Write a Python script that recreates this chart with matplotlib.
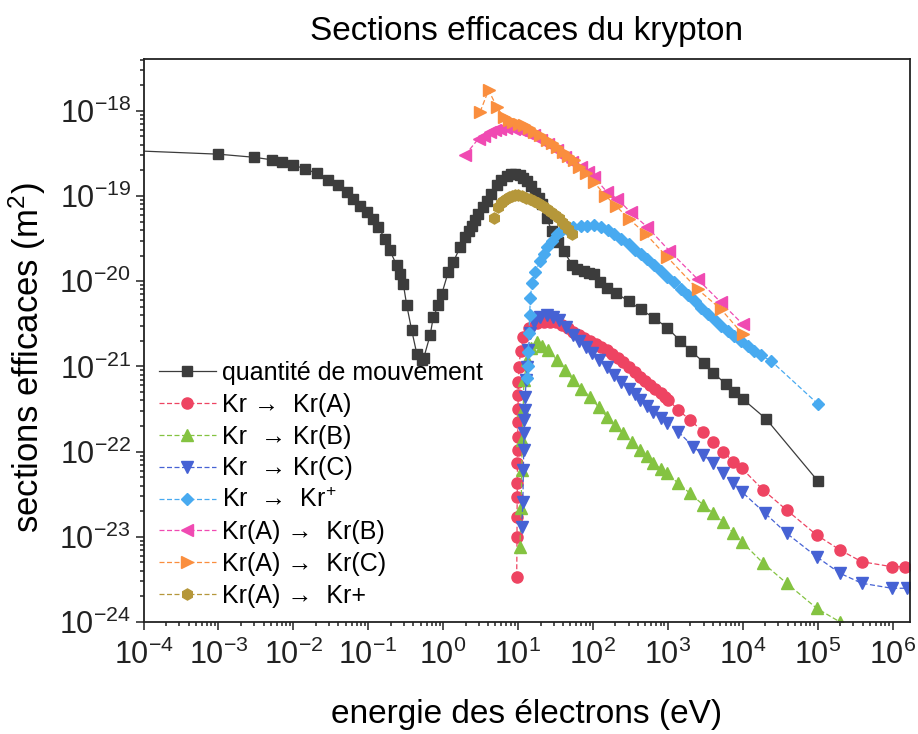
# sections efficaces du krypton - recreation du graphe (log-log)
import matplotlib
matplotlib.use("Agg")
import matplotlib.pyplot as plt
from matplotlib.ticker import (FixedLocator, LogLocator, LogFormatterMathtext,
                               NullFormatter)

plt.rcParams["font.family"] = ["Liberation Sans", "DejaVu Sans"]
plt.rcParams["mathtext.fontset"] = "custom"
plt.rcParams["mathtext.rm"] = "Liberation Sans"
plt.rcParams["mathtext.it"] = "Liberation Sans:italic"
plt.rcParams["mathtext.bf"] = "Liberation Sans:bold"

A2 = 1e-20  # les sections sont notees en 1e-20 m^2

# decades des axes
x_decades = list(range(-4, 7))
y_decades = list(range(-24, -17))

# quantite de mouvement (carres noirs)
E_mt = [5e-5, 1.0e-3, 3.0e-3, 5.2e-3, 7.0e-3, 1.0e-2, 1.43e-2, 2.05e-2, 2.9e-2,
        4.0e-2, 5.2e-2, 6.3e-2, 7.8e-2, 9.6e-2, 0.117, 0.136, 0.168, 0.195,
        0.24, 0.266, 0.294, 0.327, 0.381, 0.445, 0.518, 0.55, 0.67, 0.74, 0.86,
        0.96, 1.17, 1.37, 1.68, 1.96, 2.2, 2.41, 2.7, 2.95, 3.4, 3.82, 4.3, 5.2,
        6.0, 7.1, 8.0, 9.1, 10.5, 11.8, 13.1, 15.0, 17.0, 19.0, 20.9, 24.0,
        28.4, 34.0, 40.7, 52.6, 62.0, 75.5, 88.0, 103, 125, 154, 201, 303, 435,
        655, 988, 1460, 2030, 3040, 4050, 5990, 7730, 10000, 20500, 1.0e5]
sig_mt = [34.5, 31, 28.5, 26.6, 25.4, 23.2, 20.8, 18.5, 15.5,
          13.3, 11.1, 9.3, 7.7, 6.5, 5.4, 4.3, 3.15, 2.3,
          1.53, 1.23, 0.93, 0.52, 0.265, 0.141, 0.118, 0.125, 0.232, 0.38, 0.52,
          0.71, 1.28, 1.68, 2.51, 3.29, 3.9, 4.5, 5.3, 6.2, 7.4, 8.85, 10.5, 13.3,
          15.5, 17.4, 18.0, 18.1, 17.6, 16.5, 15.2, 13.0, 11.0, 9.5, 8.0, 5.5,
          3.9, 2.9, 2.26, 1.57, 1.4, 1.31, 1.25, 1.20, 0.98, 0.84, 0.73, 0.58, 0.467,
          0.371, 0.283, 0.20, 0.152, 0.111, 0.084, 0.0617, 0.0498, 0.0415, 0.0242, 0.00455]

# Kr -> Kr(A)
E_A = [9.6, 9.7, 9.7, 9.75, 9.8, 9.8, 9.85, 9.9, 9.95, 10.0, 10.05, 10.1, 10.3,
       10.8, 11.8, 14.0, 17.8, 22.0, 26.7, 32, 39, 46, 54.7, 65, 77, 92, 110, 130,
       153, 180, 215, 255, 300, 360, 426, 500, 580, 680, 800, 920, 1016, 1380,
       1977, 2980, 4050, 5500, 7490, 9700, 18800, 38600, 97000, 1.99e5, 3.88e5,
       9.75e5, 1.47e6]
sig_A = [0.00034, 0.001, 0.00172, 0.00296, 0.00432, 0.0073, 0.0105, 0.015, 0.022,
         0.032, 0.046, 0.066, 0.099, 0.15, 0.223, 0.28, 0.321, 0.333, 0.335, 0.33,
         0.305, 0.28, 0.255, 0.236, 0.217, 0.198, 0.181, 0.168, 0.156, 0.141, 0.126,
         0.113, 0.099, 0.086, 0.0757, 0.068, 0.061, 0.054, 0.049, 0.044, 0.0404,
         0.0308, 0.0235, 0.0171, 0.0131, 0.00998, 0.0076, 0.00637, 0.00354, 0.00206,
         0.00105, 0.0007, 0.00051, 0.000446, 0.000446]

# Kr -> Kr(B)
E_B = [10.6, 11.0, 11.2, 11.4, 11.7, 12.0, 13.2, 15.0, 17.8, 21, 25, 32.9, 42,
       54.7, 70, 91.4, 120, 153, 200, 255, 330, 426, 520, 641, 800, 966, 1380,
       1977, 2980, 4050, 5500, 7490, 9700, 18800, 38600, 97000, 1.99e5]
sig_B = [0.00075, 0.00218, 0.00608, 0.0137, 0.0308, 0.069, 0.119, 0.165, 0.195,
         0.175, 0.155, 0.119, 0.092, 0.069, 0.055, 0.044, 0.033, 0.0257, 0.0205,
         0.0164, 0.013, 0.0104, 0.0088, 0.0073, 0.0063, 0.00556, 0.00425, 0.00324,
         0.00236, 0.00189, 0.0015, 0.0011, 0.000875, 0.000489, 0.000285, 0.000145,
         0.0001]

# Kr -> Kr(C)
E_C = [11.2, 11.6, 11.8, 11.9, 12.0, 12.2, 12.4, 12.5, 12.8, 13.1, 13.7, 14.5,
       16.5, 19.7, 24.2, 29, 35, 44, 54.7, 66, 80, 97, 120, 153, 190, 240, 300,
       360, 426, 520, 641, 800, 966, 1380, 2190, 2980, 4050, 5500, 7490, 9700,
       19900, 38600, 97000, 1.99e5, 3.88e5, 9.75e5, 1.55e6]
sig_C = [0.00131, 0.00258, 0.0061, 0.0104, 0.0164, 0.0235, 0.0308, 0.044, 0.069,
         0.099, 0.156, 0.245, 0.33, 0.383, 0.401, 0.385, 0.35, 0.29, 0.233, 0.2,
         0.17, 0.145, 0.12, 0.099, 0.08, 0.066, 0.054, 0.047, 0.0404, 0.034,
         0.0294, 0.0249, 0.0215, 0.0171, 0.0114, 0.00912, 0.0073, 0.00556, 0.00425,
         0.00338, 0.00189, 0.0011, 0.000583, 0.000373, 0.000285, 0.000249, 0.000249]

# Kr -> Kr+
E_i = [13.2, 13.4, 13.7, 14.0, 14.3, 14.6, 15.4, 17.0, 19.9, 22, 24.4, 28, 33.2,
       38, 45.1, 55, 68.3, 83, 103, 130, 160, 191, 240, 300, 360, 435, 530, 650,
       800, 980, 1210, 1500, 1850, 2300, 2800, 3390, 4200, 5100, 6300, 7700, 9480,
       11600, 14300, 17500, 23900, 1.0e5]
sig_i = [0.073, 0.10, 0.148, 0.247, 0.4, 0.644, 0.95, 1.3, 1.74, 2.1, 2.5, 3.0, 3.58,
         3.9, 4.1, 4.3, 4.42, 4.5, 4.51, 4.3, 3.95, 3.58, 3.1, 2.7, 2.35, 2.08, 1.8,
         1.55, 1.32, 1.13, 0.968, 0.82, 0.69, 0.58, 0.49, 0.41, 0.35, 0.30, 0.26,
         0.225, 0.199, 0.175, 0.153, 0.135, 0.116, 0.0365]

# Kr(A) -> Kr(B)
E_AB = [1.96, 2.97, 3.5, 4.26, 5.0, 5.78, 7.0, 8.73, 10.5, 13, 16.1, 20, 25, 33.2,
        42, 53, 68.3, 85, 103, 155, 212, 318, 534, 1040, 2490, 5130, 10000]
sig_AB = [30.1, 47.2, 51, 56.5, 59.5, 61.8, 62.5, 61.8, 59, 55.5, 51.5, 46, 40.5,
          34.4, 29, 25, 21.9, 19, 16.7, 11.1, 9.27, 6.45, 4.31, 2.29, 1.06, 0.563,
          0.313]

# Kr(A) -> Kr(C)
E_AC = [3.12, 4.04, 5.22, 6.4, 7.5, 8.7, 10.2, 11.9, 14, 16.5, 19.9, 24, 28, 33.2,
        40, 47, 55.6, 66, 80, 103, 147, 201, 303, 507, 988, 2490, 5130, 10000]
sig_AC = [97.3, 175, 111, 84.7, 79, 74, 70.5, 67.7, 62.5, 57, 51.5, 46, 41.5, 37.6,
          33, 29.5, 26.2, 22, 18.5, 14.6, 10.1, 7.74, 5.39, 3.59, 1.91, 0.807,
          0.469, 0.239]

# Kr(A) -> Kr+
E_Ai = [4.83, 5.46, 5.9, 6.3, 6.9, 7.6, 8.3, 9.1, 10.1, 11.3, 12.8, 14.5, 16.5,
        18.7, 21.5, 24.4, 27.5, 31.2, 35, 38.7, 43, 46.9, 52.6]
sig_Ai = [5.56, 7.48, 8.2, 8.73, 9.3, 9.73, 10.1, 10.3, 10.2, 10.0, 9.6, 9.2, 8.7,
          8.2, 7.6, 7.0, 6.5, 5.98, 5.45, 4.95, 4.55, 4.1, 3.6]

series = [
    (E_mt, sig_mt, "quantité de mouvement", "s", "#3c3c3c", 7, "-"),
    (E_A, sig_A, "Kr →  Kr(A)", "o", "#ee4462", 8, (0, (4, 2))),
    (E_B, sig_B, "Kr  → Kr(B)", "^", "#84c341", 8.5, (0, (4, 2))),
    (E_C, sig_C, "Kr  → Kr(C)", "v", "#4662d4", 8.5, (0, (4, 2))),
    (E_i, sig_i, "Kr  →  Kr$^{+}$", "D", "#48aaf0", 6.5, (0, (4, 2))),
    (E_AB, sig_AB, "Kr(A) →  Kr(B)", "<", "#f04ab2", 8.5, (0, (4, 2))),
    (E_AC, sig_AC, "Kr(A) →  Kr(C)", ">", "#fa8e3e", 8.5, (0, (4, 2))),
    (E_Ai, sig_Ai, "Kr(A) →  Kr+", "h", "#b5973a", 8, (0, (4, 2))),
]

fig = plt.figure(figsize=(9.18, 7.34), dpi=100)
ax = fig.add_axes([143.5 / 918, 1 - 622 / 734, 766.5 / 918, 563 / 734])

for E, s, lab, mk, col, ms, ls in series:
    ax.plot(E, [v * A2 for v in s], linestyle=ls, lw=0.9, color=col,
            marker=mk, ms=ms, mfc=col, mec=col, label=lab)

ax.set_xscale("log")
ax.set_yscale("log")
ax.set_xlim(1e-4, 1.71e6)
ax.set_ylim(1e-24, 4.06e-18)

ax.xaxis.set_major_locator(FixedLocator([10.0 ** k for k in x_decades]))
ax.yaxis.set_major_locator(FixedLocator([10.0 ** k for k in y_decades]))
ax.xaxis.set_minor_locator(LogLocator(base=10, subs=range(2, 10), numticks=20))
ax.yaxis.set_minor_locator(LogLocator(base=10, subs=range(2, 10), numticks=20))
ax.xaxis.set_major_formatter(LogFormatterMathtext())
ax.yaxis.set_major_formatter(LogFormatterMathtext())
ax.xaxis.set_minor_formatter(NullFormatter())
ax.yaxis.set_minor_formatter(NullFormatter())

ax.tick_params(which="both", direction="out", top=False, right=False,
               width=1.1, colors="#222222")
ax.tick_params(which="major", length=6, labelsize=22)
ax.tick_params(axis="x", which="major", pad=7)
ax.tick_params(axis="y", which="major", pad=3)
ax.tick_params(which="minor", length=3)
for sp in ax.spines.values():
    sp.set_linewidth(1.3)
    sp.set_color("#222222")

ax.set_title("Sections efficaces du krypton", fontsize=24, pad=14)
ax.set_xlabel("energie des électrons (eV)", fontsize=24, labelpad=20)
ax.set_ylabel("sections efficaces (m$^{2}$)", fontsize=25)
ax.yaxis.set_label_coords(-0.125, 0.47)

ax.legend(loc="upper left", bbox_to_anchor=(0.0, 0.49), frameon=False,
          fontsize=18, handlelength=2.3, handletextpad=0.25, labelspacing=0.31,
          borderaxespad=0.2)

fig.savefig("out.png", dpi=100)
